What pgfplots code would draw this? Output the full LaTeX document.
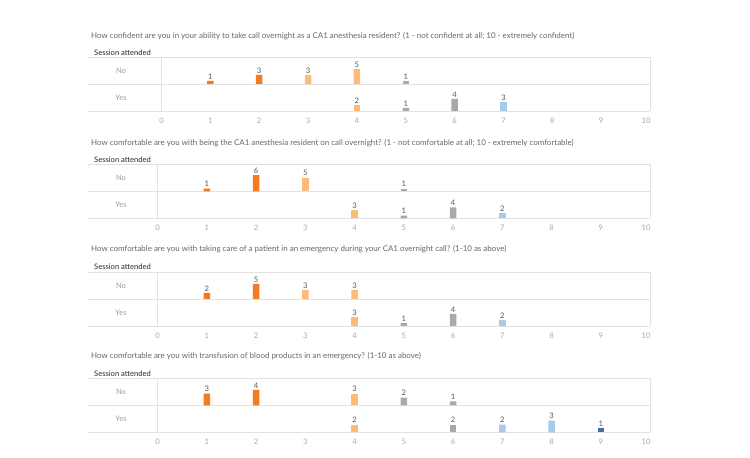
\documentclass[border=0pt]{standalone}
\usepackage{fontspec}
\setmainfont{Lato}
\usepackage{pgfplots}
\pgfplotsset{compat=1.18}

% palette (orange-blue diverging by score)
\definecolor{dkor}{HTML}{F47B20}
\definecolor{ltor}{HTML}{FDBB7A}
\definecolor{gry}{HTML}{A7A9AC}
\definecolor{ltbl}{HTML}{A5CAEA}
\definecolor{dkbl}{HTML}{3E6FAB}
\definecolor{gridc}{HTML}{E2E2E2}
\definecolor{titlec}{HTML}{666666}
\definecolor{tickc}{HTML}{A8A8A8}
\definecolor{rowc}{HTML}{9C9C9C}
\definecolor{valc}{HTML}{555555}
\definecolor{headc}{HTML}{262626}

\newcommand\smallfont{\fontsize{7.6}{8.5}\selectfont}
\newcommand\titlefont{\fontsize{7.95}{9}\selectfont}

\pgfplotsset{
  /pgf/number format/assume math mode=true,
  rowaxis/.style 2 args={
    scale only axis, anchor=south west,
    width=#1, height=27pt,
    xmin=0, xmax=10, ymin=0, ymax=#2,
    enlargelimits=false, clip=false,
    axis line style={draw=none},
    ytick=\empty, xtick=\empty,
    major tick length=0pt,
    ybar, bar width=6.5pt,
    nodes near coords,
    every node near coord/.append style={font=\smallfont, text=valc, inner sep=1.6pt},
  },
  yesrow/.style={
    xtick={0,1,...,9},
    xticklabel style={font=\smallfont, text=tickc, yshift=-3.5pt},
    % the last label is pulled inside the right edge
    extra x ticks={10},
    extra x tick style={xticklabel style={xshift=-4pt}},
  },
  rbar/.style={fill=#1, draw=none, bar shift=0pt},
}

% row frame: top, middle, bottom rules plus the two verticals
\newcommand\rowframe[4]{% x0, top, mid, bottom (pt)
  \draw[gridc, line width=0.8pt] (88pt,#2pt) -- (650pt,#2pt);
  \draw[gridc, line width=0.8pt] (88pt,#3pt) -- (650pt,#3pt);
  \draw[gridc, line width=0.8pt] (88pt,#4pt) -- (650pt,#4pt);
  \draw[gridc, line width=0.8pt] (#1pt,#2pt) -- (#1pt,#4pt);
  \draw[gridc, line width=0.6pt] (650pt,#2pt) -- (650pt,#4pt);
}
\newcommand\rowheads[3]{% header y, No y, Yes y
  \node[anchor=west, inner sep=0pt, text=headc, font=\smallfont] at (94pt,#1pt) {Session attended};
  \node[inner sep=0pt, text=rowc, font=\smallfont] at (121pt,#2pt) {No};
  \node[inner sep=0pt, text=rowc, font=\smallfont] at (121pt,#3pt) {Yes};
}

\begin{document}
\begin{tikzpicture}
\path[use as bounding box] (0,0) rectangle (750pt,458pt);

%% ---------- Question 1 ----------
\node[anchor=west, inner sep=0pt, text=titlec, font=\titlefont] at (91pt,422pt)
  {How confident are you in your ability to take call overnight as a CA1 anesthesia resident? (1 - not confident at all; 10 - extremely confident)};
\rowframe{161.5}{401}{374}{347}
\rowheads{405}{387.5}{360.5}
\begin{axis}[rowaxis={488.5pt}{9}, at={(161.5pt,374pt)}]
  \addplot[rbar=dkor] coordinates {(1,1) (2,3)};
  \addplot[rbar=ltor] coordinates {(3,3) (4,5)};
  \addplot[rbar=gry]  coordinates {(5,1)};
\end{axis}
\begin{axis}[rowaxis={488.5pt}{9}, yesrow, at={(161.5pt,347pt)}]
  \addplot[rbar=ltor] coordinates {(4,2)};
  \addplot[rbar=gry]  coordinates {(5,1) (6,4)};
  \addplot[rbar=ltbl] coordinates {(7,3)};
\end{axis}

%% ---------- Question 2 ----------
\node[anchor=west, inner sep=0pt, text=titlec, font=\titlefont] at (91pt,315pt)
  {How comfortable are you with being the CA1 anesthesia resident on call overnight? (1 - not comfortable at all; 10 - extremely comfortable)};
\rowframe{157.5}{293.7}{266.7}{239.7}
\rowheads{298}{280.2}{253.2}
\begin{axis}[rowaxis={492.5pt}{10}, at={(157.5pt,266.7pt)}]
  \addplot[rbar=dkor] coordinates {(1,1) (2,6)};
  \addplot[rbar=ltor] coordinates {(3,5)};
  \addplot[rbar=gry]  coordinates {(5,1)};
\end{axis}
\begin{axis}[rowaxis={492.5pt}{10}, yesrow, at={(157.5pt,239.7pt)}]
  \addplot[rbar=ltor] coordinates {(4,3)};
  \addplot[rbar=gry]  coordinates {(5,1) (6,4)};
  \addplot[rbar=ltbl] coordinates {(7,2)};
\end{axis}

%% ---------- Question 3 ----------
\node[anchor=west, inner sep=0pt, text=titlec, font=\titlefont] at (91pt,209pt)
  {How comfortable are you with taking care of a patient in an emergency during your CA1 overnight call? (1-10 as above)};
\rowframe{157.5}{186}{159}{132}
\rowheads{191}{172.5}{145.5}
\begin{axis}[rowaxis={492.5pt}{9}, at={(157.5pt,159pt)}]
  \addplot[rbar=dkor] coordinates {(1,2) (2,5)};
  \addplot[rbar=ltor] coordinates {(3,3) (4,3)};
\end{axis}
\begin{axis}[rowaxis={492.5pt}{9}, yesrow, at={(157.5pt,132pt)}]
  \addplot[rbar=ltor] coordinates {(4,3)};
  \addplot[rbar=gry]  coordinates {(5,1) (6,4)};
  \addplot[rbar=ltbl] coordinates {(7,2)};
\end{axis}

%% ---------- Question 4 ----------
\node[anchor=west, inner sep=0pt, text=titlec, font=\titlefont] at (91pt,102pt)
  {How comfortable are you with transfusion of blood products in an emergency? (1-10 as above)};
\rowframe{157.5}{79.7}{52.7}{25.7}
\rowheads{84}{66.2}{39.2}
\begin{axis}[rowaxis={492.5pt}{7}, at={(157.5pt,52.7pt)}]
  \addplot[rbar=dkor] coordinates {(1,3) (2,4)};
  \addplot[rbar=ltor] coordinates {(4,3)};
  \addplot[rbar=gry]  coordinates {(5,2) (6,1)};
\end{axis}
\begin{axis}[rowaxis={492.5pt}{7}, yesrow, at={(157.5pt,25.7pt)}]
  \addplot[rbar=ltor] coordinates {(4,2)};
  \addplot[rbar=gry]  coordinates {(6,2)};
  \addplot[rbar=ltbl] coordinates {(7,2) (8,3)};
  \addplot[rbar=dkbl] coordinates {(9,1)};
\end{axis}
\end{tikzpicture}
\end{document}
